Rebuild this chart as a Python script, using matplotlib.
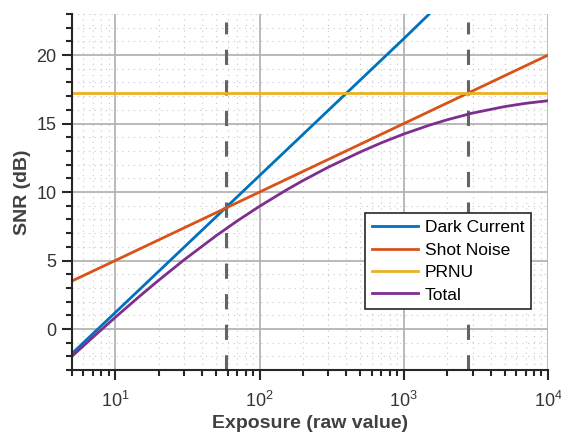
import numpy as np
import matplotlib
matplotlib.use("Agg")
import matplotlib.pyplot as plt
from matplotlib.ticker import MultipleLocator, LogLocator, NullFormatter

plt.rcParams.update(
    {
        "font.family": ["Liberation Sans", "DejaVu Sans"],
        "mathtext.default": "regular",
        "font.size": 13,
    }
)

# exposure values (raw) and SNR curves
dark_x = [5, 10, 100, 1000, 1500]
dark_snr = [-1.8, 1.2, 11.2, 21.2, 23.0]

shot_x = [5, 10, 100, 1000, 10000]
shot_snr = [3.5, 5.0, 10.0, 15.0, 20.0]

prnu_x = [5, 10000]
prnu_snr = [17.2, 17.2]

total_x = [5, 7, 10, 15, 20, 30, 50, 70, 100, 150, 200, 300, 500, 700,
           1000, 1500, 2000, 3000, 5000, 7000, 10000]
total_snr = [-2.0, -0.6, 0.85, 2.46, 3.56, 5.05, 6.81, 7.89, 8.96, 10.09,
             10.84, 11.82, 12.93, 13.6, 14.24, 14.88, 15.28, 15.77, 16.24,
             16.48, 16.67]

marker_x = [59, 2790]
marker_y = [-3, 22.4]

colors = ["#0072BD", "#D95319", "#EDB120", "#7E2F8E"]
dark_gray = "#262626"

fig = plt.figure(figsize=(5.61, 4.38), dpi=100)
ax = fig.add_axes([0.128, 0.155, 0.849, 0.813])

ax.plot(dark_x, dark_snr, color=colors[0], lw=2, label="Dark Current")
ax.plot(shot_x, shot_snr, color=colors[1], lw=2, label="Shot Noise")
ax.plot(prnu_x, prnu_snr, color=colors[2], lw=2, label="PRNU")
ax.plot(total_x, total_snr, color=colors[3], lw=2, label="Total")

for xv in marker_x:
    ax.plot([xv, xv], marker_y, color="#646464", lw=2.2, ls=(0, (5, 5)), zorder=1)

ax.set_xscale("log")
ax.set_xlim(5, 1e4)
ax.set_ylim(-3, 23)
ax.yaxis.set_major_locator(MultipleLocator(5))
ax.yaxis.set_minor_locator(MultipleLocator(1))
ax.xaxis.set_major_locator(LogLocator(base=10))
ax.xaxis.set_minor_locator(LogLocator(base=10, subs=np.arange(2, 10)))
ax.xaxis.set_minor_formatter(NullFormatter())

ax.grid(True, which="major", color="#b4b4b4", lw=1.3)
ax.grid(True, which="minor", color="#c8c8c8", lw=0.8, ls=(0, (1, 4)))
ax.set_axisbelow(True)

for side in ["top", "right"]:
    ax.spines[side].set_visible(False)
for side in ["left", "bottom"]:
    ax.spines[side].set_color(dark_gray)
    ax.spines[side].set_linewidth(1.5)

ax.tick_params(which="major", direction="out", length=7, width=1.5,
               color=dark_gray, labelcolor="#333333", labelsize=13, pad=4)
ax.tick_params(which="minor", direction="out", length=4.3, width=1.5, color=dark_gray)
ax.tick_params(axis="x", which="major", pad=8)

ax.set_xlabel("Exposure (raw value)", fontweight="bold", color="#404040", fontsize=14, labelpad=3)
ax.set_ylabel("SNR (dB)", fontweight="bold", color="#404040", fontsize=14, labelpad=4)

leg = ax.legend(loc="upper right", bbox_to_anchor=(0.964, 0.441), borderaxespad=0,
                fancybox=False, framealpha=1, edgecolor=dark_gray, fontsize=12.5,
                handlelength=2.6, handletextpad=0.4, labelspacing=0.42,
                borderpad=0.4)
leg.get_frame().set_linewidth(1.2)

fig.savefig("out.png", dpi=100)
